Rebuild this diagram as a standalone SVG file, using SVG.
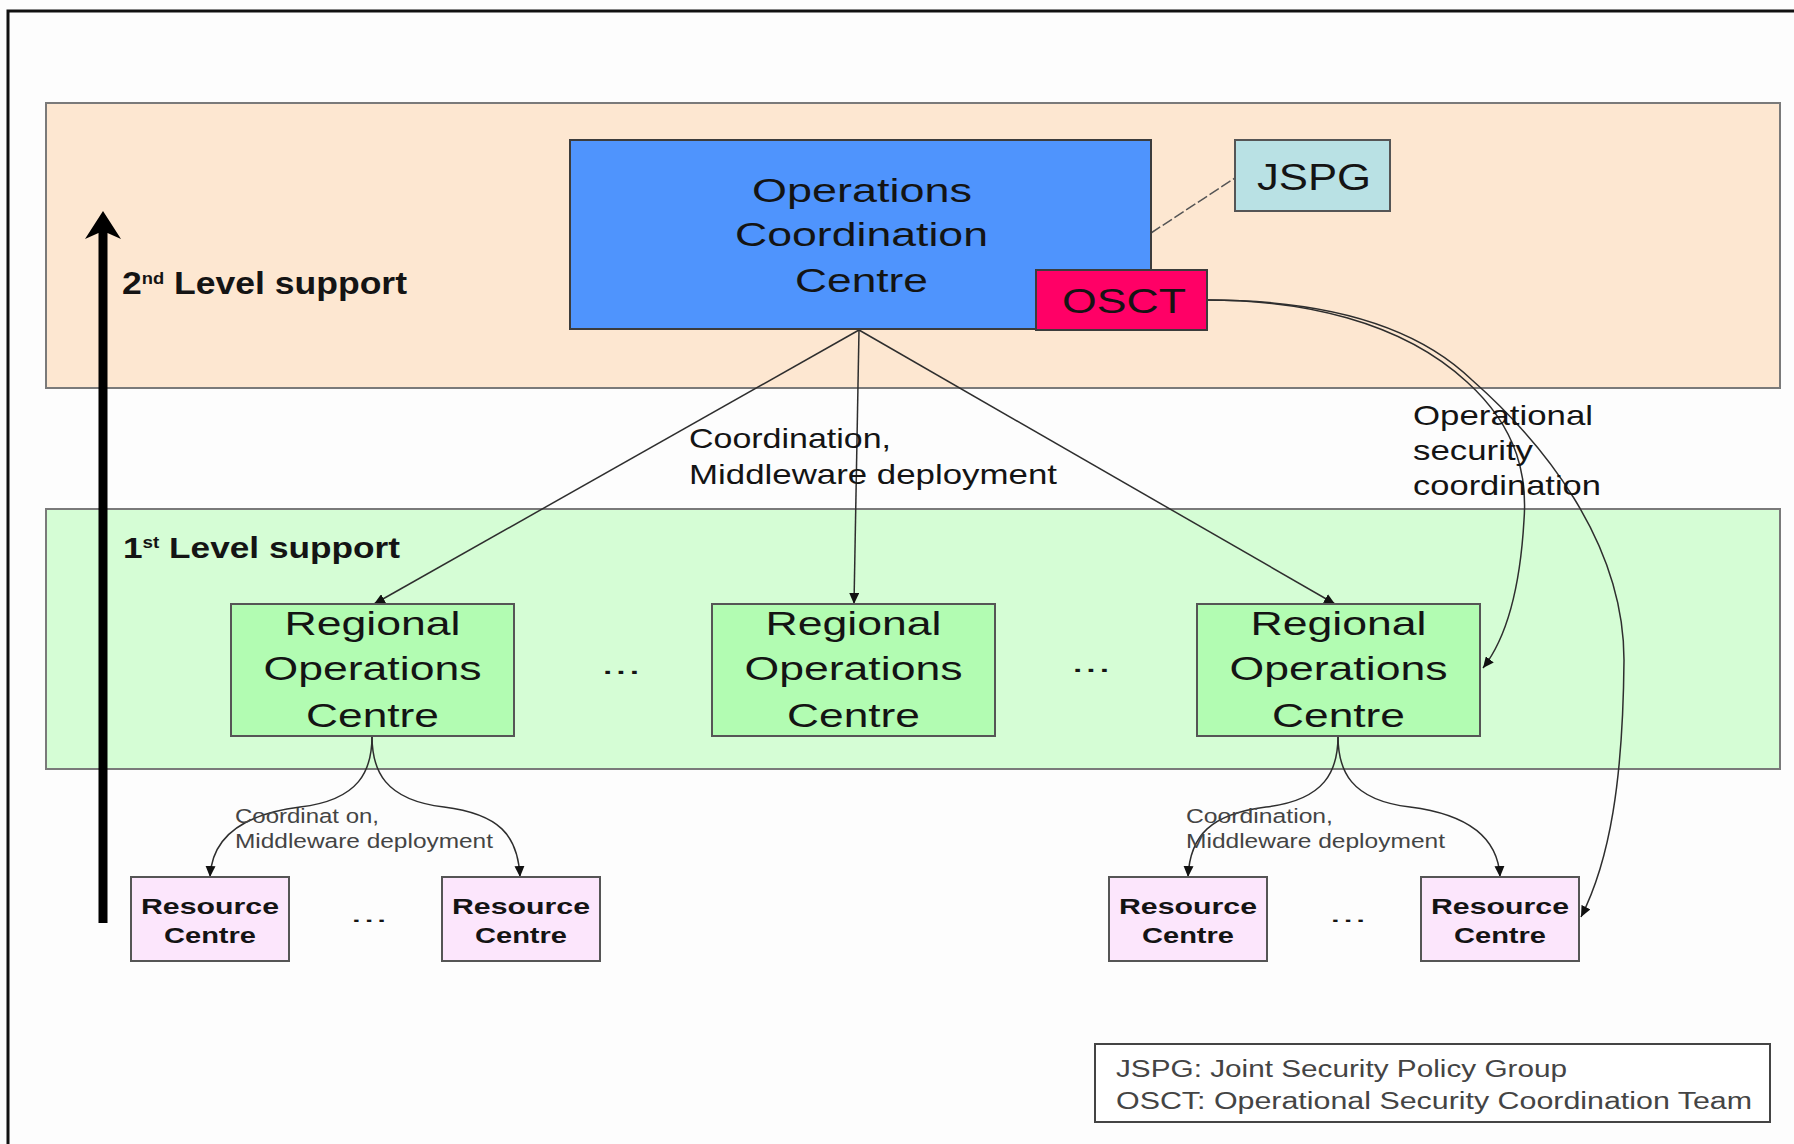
<svg xmlns="http://www.w3.org/2000/svg" width="1794" height="1144" viewBox="0 0 1794 1144">
<style>
.t{font-family:"Liberation Sans",Arial,sans-serif;fill:#141414}
.b{font-weight:bold}
.band{stroke:#7a7a7a;stroke-width:2}
.box{stroke:#3c3c3c;stroke-width:2}
.conn{fill:none;stroke:#2e2e2e;stroke-width:1.5}
.lbl{fill:#444}
</style>
<defs>
<marker id="ah" markerUnits="userSpaceOnUse" markerWidth="12" markerHeight="10" refX="11" refY="5" orient="auto">
<path d="M0,0 L11,5 L0,10 z" fill="#111"/>
</marker>
</defs>
<rect x="0" y="0" width="1794" height="1144" fill="#fdfdfd"/>
<path d="M8,1144 V11 H1794" fill="none" stroke="#111" stroke-width="3"/>

<g id="level2-band">
<rect class="band" x="46" y="103" width="1734" height="285" fill="#fde7d1"/>
</g>
<g id="level1-band">
<rect class="band" x="46" y="509" width="1734" height="260" fill="#d5fdd5"/>
</g>

<g id="level-arrow">
<polygon points="103,211 121,239 107.5,233 107.5,923 98.5,923 98.5,233 85,239" fill="#000"/>
</g>
<g id="label-level2">
<text class="t b" x="122" y="294" font-size="31" textLength="285" lengthAdjust="spacingAndGlyphs">2<tspan font-size="16" dy="-10">nd</tspan><tspan dy="10"> Level support</tspan></text>
</g>
<g id="label-level1">
<text class="t b" x="123" y="558" font-size="30" textLength="277" lengthAdjust="spacingAndGlyphs">1<tspan font-size="16" dy="-10">st</tspan><tspan dy="10"> Level support</tspan></text>
</g>

<g id="connectors">
<line class="conn" x1="1151" y1="233" x2="1235" y2="178" stroke-dasharray="11,3" style="stroke:#555"/>
<line class="conn" x1="859" y1="330" x2="374" y2="604" marker-end="url(#ah)"/>
<line class="conn" x1="859" y1="330" x2="854" y2="604" marker-end="url(#ah)"/>
<line class="conn" x1="859" y1="330" x2="1335" y2="604" marker-end="url(#ah)"/>
<path class="conn" d="M1207,300 C1300,300 1400,320 1467,382 C1520,430 1527,480 1524,520 C1520,590 1505,640 1483,668" marker-end="url(#ah)"/>
<path class="conn" d="M1207,300 C1300,300 1405,315 1472,380 C1540,440 1624,540 1624,660 C1623,780 1610,860 1581,917" marker-end="url(#ah)"/>
<path class="conn" d="M372,736 C372,770 360,800 300,807 C245,814 212,835 210,877" marker-end="url(#ah)"/>
<path class="conn" d="M372,736 C372,770 384,800 444,807 C499,814 518,835 520,877" marker-end="url(#ah)"/>
<path class="conn" d="M1338,736 C1338,770 1326,800 1266,807 C1211,814 1190,835 1188,877" marker-end="url(#ah)"/>
<path class="conn" d="M1338,736 C1338,770 1350,800 1410,807 C1465,814 1498,835 1500,877" marker-end="url(#ah)"/>
</g>

<g id="occ">
<rect class="box" x="570" y="140" width="581" height="189" fill="#4f94fd"/>
<text class="t" x="752" y="202" font-size="33" textLength="220" lengthAdjust="spacingAndGlyphs">Operations</text>
<text class="t" x="735" y="246" font-size="33" textLength="253" lengthAdjust="spacingAndGlyphs">Coordination</text>
<text class="t" x="795" y="292" font-size="33" textLength="133" lengthAdjust="spacingAndGlyphs">Centre</text>
</g>
<g id="osct">
<rect class="box" x="1036" y="270" width="171" height="60" fill="#ff0066"/>
<text class="t" x="1062" y="313" font-size="35" textLength="124" lengthAdjust="spacingAndGlyphs">OSCT</text>
</g>
<g id="jspg">
<rect class="box" x="1235" y="140" width="155" height="71" fill="#b9e1e4" style="stroke:#555"/>
<text class="t" x="1257" y="190" font-size="37" textLength="114" lengthAdjust="spacingAndGlyphs" fill="#222">JSPG</text>
</g>

<g id="label-coord-mid">
<text class="t" x="689" y="448" font-size="28" textLength="202" lengthAdjust="spacingAndGlyphs">Coordination,</text>
<text class="t" x="689" y="484" font-size="28" textLength="368" lengthAdjust="spacingAndGlyphs">Middleware deployment</text>
</g>
<g id="label-opsec">
<text class="t" x="1413" y="425" font-size="28" textLength="180" lengthAdjust="spacingAndGlyphs">Operational</text>
<text class="t" x="1413" y="460" font-size="28" textLength="120" lengthAdjust="spacingAndGlyphs">security</text>
<text class="t" x="1413" y="495" font-size="28" textLength="188" lengthAdjust="spacingAndGlyphs">coordination</text>
</g>

<g id="roc-left">
<rect class="box" x="231" y="604" width="283" height="132" fill="#b2fcb2" style="stroke:#555"/>
<text class="t" x="372.5" y="635" font-size="33" text-anchor="middle" textLength="176" lengthAdjust="spacingAndGlyphs">Regional</text>
<text class="t" x="372.5" y="680" font-size="33" text-anchor="middle" textLength="218" lengthAdjust="spacingAndGlyphs">Operations</text>
<text class="t" x="372.5" y="727" font-size="33" text-anchor="middle" textLength="133" lengthAdjust="spacingAndGlyphs">Centre</text>
</g>
<g id="roc-mid">
<rect class="box" x="712" y="604" width="283" height="132" fill="#b2fcb2" style="stroke:#555"/>
<text class="t" x="853.5" y="635" font-size="33" text-anchor="middle" textLength="176" lengthAdjust="spacingAndGlyphs">Regional</text>
<text class="t" x="853.5" y="680" font-size="33" text-anchor="middle" textLength="218" lengthAdjust="spacingAndGlyphs">Operations</text>
<text class="t" x="853.5" y="727" font-size="33" text-anchor="middle" textLength="133" lengthAdjust="spacingAndGlyphs">Centre</text>
</g>
<g id="roc-right">
<rect class="box" x="1197" y="604" width="283" height="132" fill="#b2fcb2" style="stroke:#555"/>
<text class="t" x="1338.5" y="635" font-size="33" text-anchor="middle" textLength="176" lengthAdjust="spacingAndGlyphs">Regional</text>
<text class="t" x="1338.5" y="680" font-size="33" text-anchor="middle" textLength="218" lengthAdjust="spacingAndGlyphs">Operations</text>
<text class="t" x="1338.5" y="727" font-size="33" text-anchor="middle" textLength="133" lengthAdjust="spacingAndGlyphs">Centre</text>
</g>
<g id="roc-dots">
<text class="t" x="601" y="674" font-size="30" textLength="40" lengthAdjust="spacingAndGlyphs">...</text>
<text class="t" x="1071" y="672" font-size="30" textLength="40" lengthAdjust="spacingAndGlyphs">...</text>
</g>

<g id="label-coord-left">
<text class="t lbl" x="235" y="823" font-size="20.5" textLength="144" lengthAdjust="spacingAndGlyphs">Coordinat on,</text>
<text class="t lbl" x="235" y="848" font-size="20.5" textLength="258" lengthAdjust="spacingAndGlyphs">Middleware deployment</text>
</g>
<g id="label-coord-right">
<text class="t lbl" x="1186" y="823" font-size="20.5" textLength="147" lengthAdjust="spacingAndGlyphs">Coordination,</text>
<text class="t lbl" x="1186" y="848" font-size="20.5" textLength="259" lengthAdjust="spacingAndGlyphs">Middleware deployment</text>
</g>

<g id="rc1">
<rect class="box" x="131" y="877" width="158" height="84" fill="#fce6fc" style="stroke:#555"/>
<text class="t b" x="210" y="914" font-size="22" text-anchor="middle" textLength="138" lengthAdjust="spacingAndGlyphs">Resource</text>
<text class="t b" x="210" y="943" font-size="22" text-anchor="middle" textLength="92" lengthAdjust="spacingAndGlyphs">Centre</text>
</g>
<g id="rc2">
<rect class="box" x="442" y="877" width="158" height="84" fill="#fce6fc" style="stroke:#555"/>
<text class="t b" x="521" y="914" font-size="22" text-anchor="middle" textLength="138" lengthAdjust="spacingAndGlyphs">Resource</text>
<text class="t b" x="521" y="943" font-size="22" text-anchor="middle" textLength="92" lengthAdjust="spacingAndGlyphs">Centre</text>
</g>
<g id="rc3">
<rect class="box" x="1109" y="877" width="158" height="84" fill="#fce6fc" style="stroke:#555"/>
<text class="t b" x="1188" y="914" font-size="22" text-anchor="middle" textLength="138" lengthAdjust="spacingAndGlyphs">Resource</text>
<text class="t b" x="1188" y="943" font-size="22" text-anchor="middle" textLength="92" lengthAdjust="spacingAndGlyphs">Centre</text>
</g>
<g id="rc4">
<rect class="box" x="1421" y="877" width="158" height="84" fill="#fce6fc" style="stroke:#555"/>
<text class="t b" x="1500" y="914" font-size="22" text-anchor="middle" textLength="138" lengthAdjust="spacingAndGlyphs">Resource</text>
<text class="t b" x="1500" y="943" font-size="22" text-anchor="middle" textLength="92" lengthAdjust="spacingAndGlyphs">Centre</text>
</g>
<g id="rc-dots">
<text class="t" x="350" y="922" font-size="22" textLength="38" lengthAdjust="spacingAndGlyphs" fill="#333">...</text>
<text class="t" x="1329" y="922" font-size="22" textLength="38" lengthAdjust="spacingAndGlyphs" fill="#333">...</text>
</g>

<g id="legend">
<rect x="1095" y="1044" width="675" height="78" fill="#fff" stroke="#444" stroke-width="2"/>
<text class="t lbl" x="1116" y="1077" font-size="23" textLength="451" lengthAdjust="spacingAndGlyphs">JSPG: Joint Security Policy Group</text>
<text class="t lbl" x="1116" y="1109" font-size="23" textLength="636" lengthAdjust="spacingAndGlyphs">OSCT: Operational Security Coordination Team</text>
</g>
</svg>
